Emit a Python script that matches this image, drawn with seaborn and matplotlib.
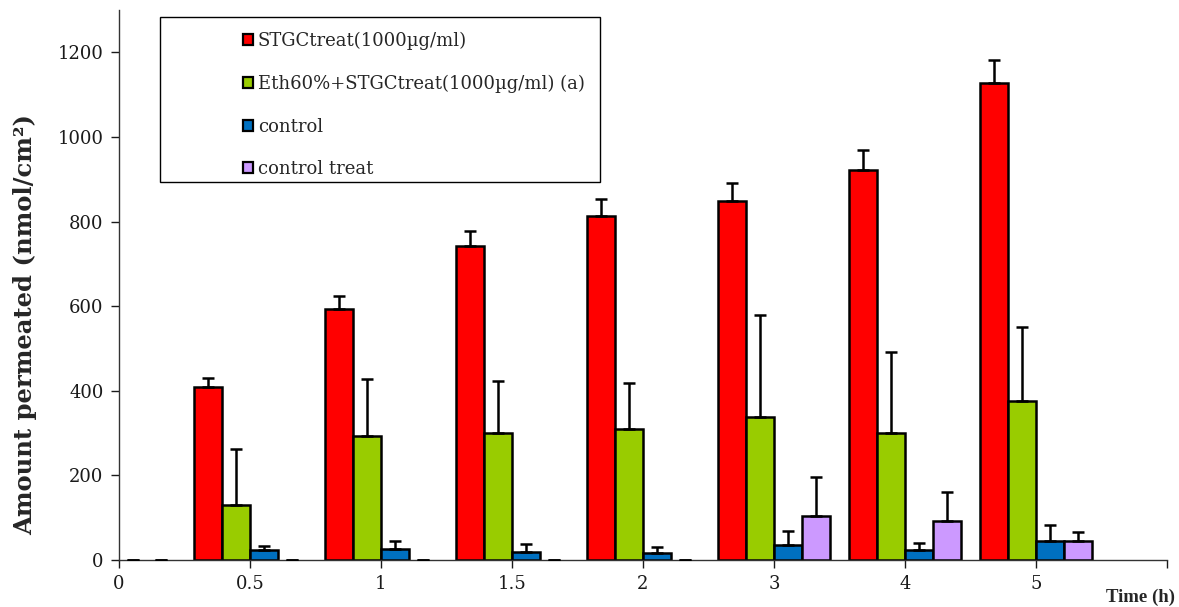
import pandas as pd
import numpy as np
from matplotlib import pyplot as plt
from matplotlib.patches import Rectangle
import seaborn as sns

times = ['0', '0.5', '1', '1.5', '2', '3', '4', '5']
series = ['STGCtreat(1000µg/ml)', 'Eth60%+STGCtreat(1000µg/ml) (a)',
          'control', 'control treat']
colors = ['#FF0000', '#99CC00', '#0070C0', '#CC99FF']

stgc = [0, 409, 593, 742, 813, 848, 921, 1127]
stgc_err = [0, 21, 32, 35, 41, 43, 47, 56]
eth = [0, 130, 292, 301, 310, 339, 301, 377]
eth_err = [0, 132, 137, 123, 108, 241, 191, 174]
control = [0, 23, 25, 18, 17, 35, 24, 44]
control_err = [0, 10, 20, 21, 13, 34, 17, 39]
control_treat = [0, 0, 0, 0, 0, 104, 93, 46]
control_treat_err = [0, 0, 0, 0, 0, 92, 67, 20]

values = [stgc, eth, control, control_treat]
errors = [stgc_err, eth_err, control_err, control_treat_err]

rows = []
for s, vals, errs in zip(series, values, errors):
    for t, v, e in zip(times, vals, errs):
        rows.append({'time': t, 'series': s, 'value': v, 'err': e})
df = pd.DataFrame(rows)

sns.set_style('white')
plt.rcParams['font.family'] = ['DejaVu Serif']

fig = plt.figure(figsize=(11.79, 6.07), dpi=100)
ax = fig.add_axes([0.1009, 0.0774, 0.8889, 0.9061])

g = sns.barplot(data=df, x='time', y='value', hue='series', order=times,
                hue_order=series, palette=colors, edgecolor='black',
                linewidth=1.8, width=0.855, errorbar=None, saturation=1, ax=ax)

# upper error bars only, like the excel original
for cont, s in zip(ax.containers, series):
    sub = df[df['series'] == s].set_index('time').loc[times]
    xs = [p.get_x() + p.get_width() / 2 for p in cont.patches]
    for p in cont.patches:
        if p.get_height() == 0:
            p.set_linewidth(0)
    ax.errorbar(xs, sub['value'], yerr=[np.zeros(len(xs)), sub['err']],
                fmt='none', ecolor='black', elinewidth=1.8, capsize=4,
                capthick=1.8, zorder=3)

ax.set_xlim(0, 8)
ax.set_ylim(0, 1300)
ax.set_yticks(range(0, 1201, 200))
ax.set_xticks(range(9))
ax.set_xticklabels(times + [''])
ax.tick_params(axis='both', direction='out', length=6, width=1,
               labelsize=13, colors='#1a1a1a', bottom=True, left=True)
ax.tick_params(axis='x', pad=5)
ax.tick_params(axis='y', pad=5)
for side in ['top', 'right']:
    ax.spines[side].set_visible(False)
for side in ['left', 'bottom']:
    ax.spines[side].set_color('#333333')
    ax.spines[side].set_linewidth(1)

ax.set_ylabel('Amount permeated (nmol/cm²)', size=17.5, weight='bold')
ax.yaxis.set_label_coords(-0.078, 0.428)
ax.set_xlabel('Time (h)', size=13.5, weight='bold', ha='right',
              family='Liberation Serif')
ax.xaxis.set_label_coords(1.008, -0.052)

ax.add_patch(Rectangle((0.039, 0.687), 0.42, 0.30, transform=ax.transAxes,
                       fill=False, edgecolor='black', linewidth=1, zorder=5))
leg = ax.legend(loc='upper left', bbox_to_anchor=(0.118, 0.960),
                frameon=False, fontsize=13, handlelength=0.55,
                handleheight=0.55, handletextpad=0.3, labelspacing=1.36,
                borderpad=0, borderaxespad=0)
for h in leg.legend_handles:
    h.set_linewidth(1.6)

plt.savefig('out.png', dpi=100)
